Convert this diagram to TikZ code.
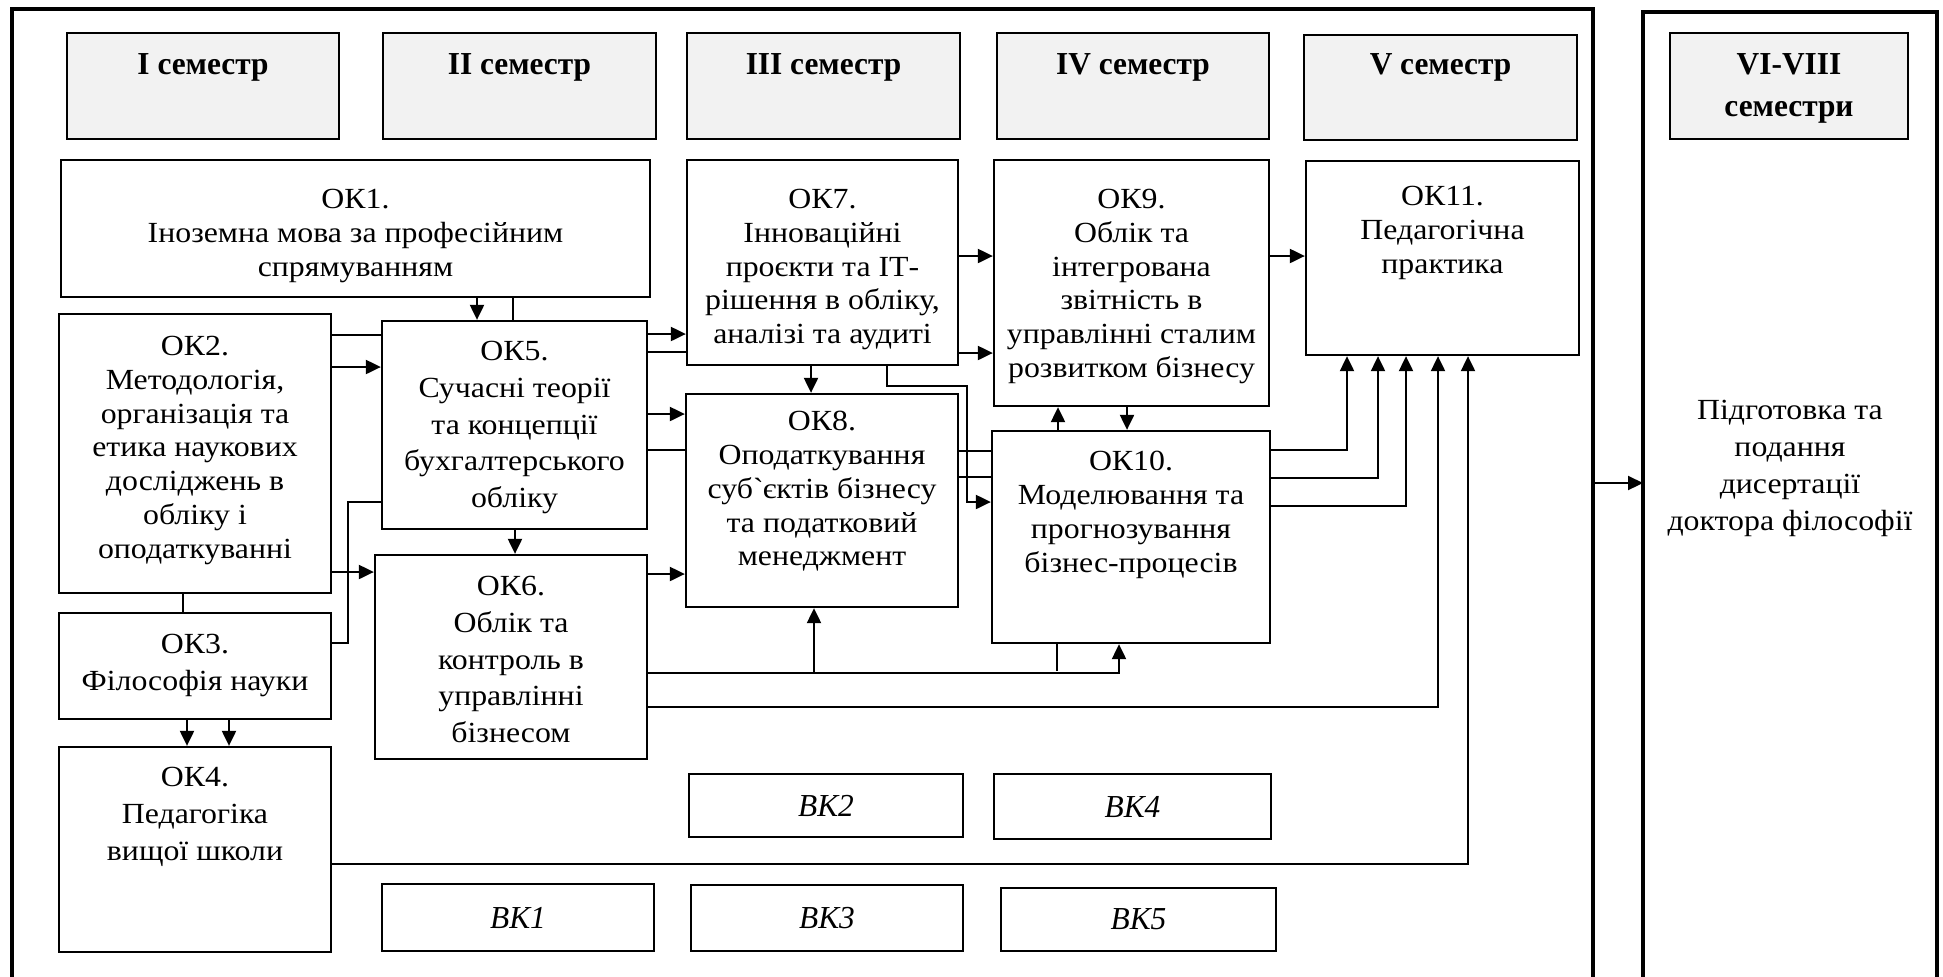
\documentclass[tikz,border=0pt]{standalone}
\usepackage{fontspec}
\setmainfont{Liberation Serif}[FakeStretch=1.09]
\newfontfamily\headfont{Liberation Serif}[FakeStretch=0.98]
\usetikzlibrary{arrows.meta,positioning,fit}
\definecolor{headgray}{HTML}{F2F2F2}
\tikzset{
    box/.style={draw, line width=1.15pt, inner sep=0pt},
    semhead/.style={box, fill=headgray},
    txt/.style={align=center, inner sep=0pt, font=\fontsize{14.6}{16.9}\selectfont},
    txtwide/.style={txt, font=\fontsize{14.6}{18.4}\selectfont},
    headtxt/.style={align=center, inner sep=0pt, font=\headfont\bfseries\fontsize{16}{21}\selectfont},
    vktxt/.style={inner sep=0pt, font=\headfont\itshape\fontsize{16}{18}\selectfont},
    arr/.style={line width=1.05pt, -{Triangle[length=7.5pt,width=7pt]}},
    link/.style={line width=1.05pt},
    frame/.style={line width=2pt}
}
\begin{document}
\begin{tikzpicture}[x=0.5pt, y=-0.5pt]
        \useasboundingbox (0,0) rectangle (1943,976);
        %outer frames
        \draw[frame] (12,990) -- (12,9) -- (1593,9) -- (1593,990);
        \draw[frame] (1643,990) -- (1643,12) -- (1937,12) -- (1937,990);
        %semester heads
        \node[semhead, fit={(67,33) (339,139)}] (s1) {};
        \node[semhead, fit={(383,33) (656,139)}] (s2) {};
        \node[semhead, fit={(687,33) (960,139)}] (s3) {};
        \node[semhead, fit={(997,33) (1269,139)}] (s4) {};
        \node[semhead, fit={(1304,35) (1577,140)}] (s5) {};
        \node[semhead, fit={(1670,33) (1908,139)}] (s6) {};
        \node[headtxt, below=10.5pt of s1.north] (s1t) {I семестр};
        \node[headtxt, below=10.5pt of s2.north] (s2t) {II семестр};
        \node[headtxt, below=10.5pt of s3.north] (s3t) {III семестр};
        \node[headtxt, below=10.5pt of s4.north] (s4t) {IV семестр};
        \node[headtxt, below=9.5pt of s5.north] (s5t) {V семестр};
        \node[headtxt, below=10.5pt of s6.north] (s6t) {VI-VIII\\семестри};
        %compulsory courses
        \node[box, fit={(61,160) (650,297)}] (ok1) {};
        \node[box, fit={(59,314) (331,593)}] (ok2) {};
        \node[box, fit={(59,613) (331,719)}] (ok3) {};
        \node[box, fit={(59,747) (331,952)}] (ok4) {};
        \node[box, fit={(382,321) (647,529)}] (ok5) {};
        \node[box, fit={(375,555) (647,759)}] (ok6) {};
        \node[box, fit={(687,160) (958,365)}] (ok7) {};
        \node[box, fit={(686,394) (958,607)}] (ok8) {};
        \node[box, fit={(994,160) (1269,406)}] (ok9) {};
        \node[box, fit={(992,431) (1270,643)}] (ok10) {};
        \node[box, fit={(1306,161) (1579,355)}] (ok11) {};
        \node[txt, below=15pt of ok1.north] (ok1t) {ОК1.\\Іноземна мова за професійним\\спрямуванням};
        \node[txt, below=11.5pt of ok2.north] (ok2t) {ОК2.\\Методологія,\\організація та\\етика наукових\\досліджень в\\обліку і\\оподаткуванні};
        \node[txtwide, below=11pt of ok3.north] (ok3t) {ОК3.\\Філософія науки};
        \node[txtwide, below=10.5pt of ok4.north] (ok4t) {ОК4.\\Педагогіка\\вищої школи};
        \node[txtwide, below=10.5pt of ok5.north] (ok5t) {ОК5.\\Сучасні теорії\\та концепції\\бухгалтерського\\обліку};
        \node[txtwide, below=11pt of ok6.north] (ok6t) {ОК6.\\Облік та\\контроль в\\управлінні\\бізнесом};
        \node[txt, below=15pt of ok7.north] (ok7t) {ОК7.\\Інноваційні\\проєкти та ІТ-\\рішення в обліку,\\аналізі та аудиті};
        \node[txt, below=9pt of ok8.north] (ok8t) {ОК8.\\Оподаткування\\суб\textasciigrave єктів бізнесу\\та податковий\\менеджмент};
        \node[txt, below=15pt of ok9.north] (ok9t) {ОК9.\\Облік та\\інтегрована\\звітність в\\управлінні сталим\\розвитком бізнесу};
        \node[txt, below=10.5pt of ok10.north] (ok10t) {ОК10.\\Моделювання та\\прогнозування\\бізнес-процесів};
        \node[txt, below=13pt of ok11.north] (ok11t) {ОК11.\\Педагогічна\\практика};
        %elective courses
        \node[box, fit={(382,884) (654,951)}] (vk1) {};
        \node[box, fit={(689,774) (963,837)}] (vk2) {};
        \node[box, fit={(691,885) (963,951)}] (vk3) {};
        \node[box, fit={(994,774) (1271,839)}] (vk4) {};
        \node[box, fit={(1001,888) (1276,951)}] (vk5) {};
        \node[vktxt] (vk1t) at (vk1.center) {ВК1};
        \node[vktxt] (vk2t) at (vk2.center) {ВК2};
        \node[vktxt] (vk3t) at (vk3.center) {ВК3};
        \node[vktxt] (vk4t) at (vk4.center) {ВК4};
        \node[vktxt] (vk5t) at (vk5.center) {ВК5};
        %thesis
        \node[txtwide, anchor=north] (phd) at (1790,400) {Підготовка та\\подання\\дисертації\\доктора філософії};
        %links from OK1, OK2, OK3
        \draw[arr] (ok1.south -| 477,0) -- (ok5.north -| 477,0);
        \draw[link] (ok1.south -| 513,0) -- (ok5.north -| 513,0);
        \draw[link] (ok2.east |- 0,335) -- (ok5.west |- 0,335);
        \draw[arr] (ok2.east |- 0,367) -- (ok5.west |- 0,367);
        \draw[arr] (ok2.east |- 0,572) -- (ok6.west |- 0,572);
        \draw[link] (ok2.south -| 183,0) -- (ok3.north -| 183,0);
        \draw[link] (ok3.east |- 0,643) -| (348,502) -- (ok5.west |- 0,502);
        \draw[arr] (ok3.south -| 187,0) -- (ok4.north -| 187,0);
        \draw[arr] (ok3.south -| 229,0) -- (ok4.north -| 229,0);
        %links from OK5, OK6
        \draw[arr] (ok5.south -| 515,0) -- (ok6.north -| 515,0);
        \draw[arr] (ok5.east |- 0,334) -- (ok7.west |- 0,334);
        \draw[link] (ok5.east |- 0,352) -- (ok7.west |- 0,352);
        \draw[arr] (ok5.east |- 0,414) -- (ok8.west |- 0,414);
        \draw[link] (ok5.east |- 0,450) -- (ok8.west |- 0,450);
        \draw[arr] (ok6.east |- 0,574) -- (ok8.west |- 0,574);
        \coordinate (j8) at (814,673);
        \draw[link] (ok6.east |- 0,673) -- (j8);
        \draw[arr] (j8) -| (ok10.south -| 1119,0);
        \draw[arr] (j8) -- (ok8.south -| 814,0);
        \draw[arr] (ok6.east |- 0,707) -| (ok11.south -| 1438,0);
        \draw[arr] (ok4.east |- 0,864) -| (ok11.south -| 1468,0);
        %links from OK7, OK8
        \draw[arr] (ok7.south -| 811,0) -- (ok8.north -| 811,0);
        \draw[arr] (ok7.east |- 0,256) -- (ok9.west |- 0,256);
        \draw[arr] (ok7.east |- 0,353) -- (ok9.west |- 0,353);
        \draw[arr] (ok7.south -| 887,0) |- (967,386) |- (ok10.west |- 0,502);
        \draw[link] (ok8.east |- 0,451) -- (ok10.west |- 0,451);
        \draw[link] (ok8.east |- 0,477) -- (ok10.west |- 0,477);
        %links from OK9, OK10
        \draw[arr] (ok10.north -| 1058,0) -- (ok9.south -| 1058,0);
        \draw[arr] (ok9.south -| 1127,0) -- (ok10.north -| 1127,0);
        \draw[arr] (ok9.east |- 0,256) -- (ok11.west |- 0,256);
        \coordinate (stub) at (1057,671);
        \draw[link] (ok10.south -| 1057,0) -- (stub);
        \draw[arr] (ok10.east |- 0,450) -| (ok11.south -| 1347,0);
        \draw[arr] (ok10.east |- 0,478) -| (ok11.south -| 1378,0);
        \draw[arr] (ok10.east |- 0,506) -| (ok11.south -| 1406,0);
        %to thesis
        \coordinate (outr) at (1593,483);
        \coordinate (inl) at (1643,483);
        \draw[arr] (outr) -- (inl);
\end{tikzpicture}
\end{document}
